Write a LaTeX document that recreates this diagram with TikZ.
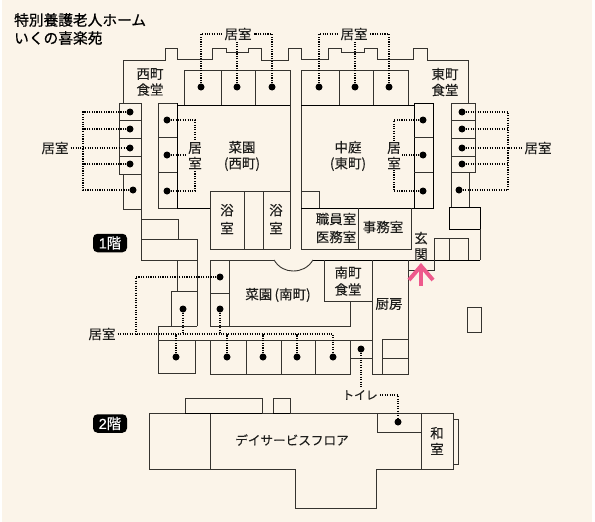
\documentclass[tikz,border=0pt]{standalone}
\usepackage{fontspec}
\setmainfont[FakeBold=0.12]{Noto Sans CJK JP}
\newfontfamily\titlefont[FakeBold=0.6]{Noto Sans CJK JP}
\newfontfamily\badgefont[FakeBold=0.5]{Liberation Sans}
\newfontfamily\badgecjk[FakeBold=0.5]{Noto Sans CJK JP}
\definecolor{paper}{HTML}{FBF4E9}
\definecolor{ink}{HTML}{1E1E1C}
\definecolor{wallgray}{HTML}{35332F}
\definecolor{arrowpink}{HTML}{EE5A8C}
\tikzset{
  wall/.style={draw=wallgray,line width=0.9pt,line join=miter,fill=none},
  heavy/.style={draw=black,line width=0.9pt},
  roomdot/.style={circle,fill=black,inner sep=0pt,minimum size=7pt},
  lead/.style={draw=black,line width=1.1pt,dash pattern=on 1.1pt off 1.3pt},
  roomtext/.style={font=\fontsize{13.5}{14}\selectfont,text=ink,inner sep=0pt,align=center},
  leadtext/.style={roomtext,inner sep=2pt},
  titletext/.style={font=\titlefont\fontsize{14.7}{16}\selectfont,text=black,inner sep=0pt,anchor=west},
  badge/.style={fill=black,rounded corners=4.5pt,minimum width=34pt,minimum height=18.5pt,inner sep=0pt,text=white}
}
\begin{document}
\begin{tikzpicture}[x=1pt,y=-1pt]
\useasboundingbox (0,0) rectangle (595,522);
\fill[white] (0,0) rectangle (595,522);
\fill[paper] (2,0) rectangle (592,522);

% 1F outline, top
\draw[wall] (123,103) -- (123,60) -- (165,60) -- (165,48) -- (177,48) -- (177,59) -- (212,59) -- (212,48) -- (226,48) -- (226,52) -- (248,52) -- (248,48) -- (261,48) -- (261,60) -- (288,60) -- (288,48) -- (301,48) -- (301,59) -- (328,59) -- (328,48) -- (341,48) -- (341,52) -- (364,52) -- (364,48) -- (377,48) -- (377,59) -- (413,59) -- (413,48) -- (427,48) -- (427,60) -- (468,60) -- (468,103);

% west outer wing
\draw[wall] (119,103) rectangle (141,174);
\draw[wall] (119,120) -- (141,120) (119,138) -- (141,138) (119,156) -- (141,156);
\draw[wall] (123,174) -- (123,209) -- (141,209);
\draw[wall] (141,174) -- (141,260);
\draw[wall] (141,219) -- (178,219) -- (178,239);
\draw[wall] (141,239) -- (197,239) -- (197,326);
\draw[wall] (141,260) -- (197,260);
\draw[wall] (177,260) -- (177,291);
\draw[wall] (171,326) -- (171,291) -- (197,291);

% west inner block
\draw[wall] (184,105) -- (184,70) -- (290,70) -- (290,249);
\draw[wall] (221,70) -- (221,105) (255,70) -- (255,105);
\draw[heavy] (177,105) -- (290,105);
\draw[wall] (158,103) rectangle (177,208);
\draw[wall] (158,137) -- (177,137) (158,172) -- (177,172);
\draw[heavy] (177,103) -- (177,208) -- (210,208);
\draw[wall] (210,249) -- (210,191) -- (290,191);
\draw[wall] (210,249) -- (290,249);
\draw[wall] (244,191) -- (244,249) (263,191) -- (263,249);

% east inner block
\draw[wall] (301,249) -- (301,70) -- (408,70) -- (408,105);
\draw[wall] (339,70) -- (339,105) (373,70) -- (373,105);
\draw[heavy] (301,105) -- (414,105);
\draw[heavy] (414,103) rectangle (433,208);
\draw[wall] (414,137) -- (433,137) (414,172) -- (433,172);
\draw[heavy] (301,208) -- (414,208);
\draw[wall] (301,191) -- (319,191) -- (319,208);
\draw[wall] (301,249) -- (411,249) -- (411,208);
\draw[wall] (358,208) -- (358,249);

% east outer wing
\draw[wall] (451,103) rectangle (475,172);
\draw[wall] (451,120) -- (475,120) (451,138) -- (475,138) (451,156) -- (475,156);
\draw[wall] (451,172) -- (451,207) (469,172) -- (469,207);
\draw[heavy] (449,207) rectangle (480,229);
\draw[wall] (480,229) -- (480,260);

% entrance and south line
\draw[heavy] (313,260) -- (480,260);
\draw[wall] (408,270) -- (434,270) -- (434,238) -- (468,238) -- (468,260);
\draw[wall] (449,238) -- (449,260);

% south garden
\draw[wall] (229,326) -- (229,260);
\draw[wall] (210,326) -- (210,260) -- (274,260);
\draw[wall] (274,260) .. controls (279,268) and (286,271) .. (293,271) .. controls (301,271) and (308,268) .. (313,260);
\draw[wall] (210,293) -- (229,293);
\draw[wall] (324,260) -- (324,301) -- (372,301);
\draw[wall] (350,301) -- (350,326) -- (210,326);

% kitchen
\draw[wall] (372,260) -- (372,374) -- (408,374) -- (408,260);
\draw[wall] (382,374) -- (382,339) -- (408,339);
\draw[wall] (382,358) -- (408,358);
\draw[wall] (350,358) -- (372,358);

% south rooms
\draw[wall] (158,340) -- (372,340);
\draw[wall] (197,326) -- (158,326) -- (158,373) -- (195,373) -- (195,340);
\draw[wall] (210,340) -- (210,374) -- (350,374) -- (350,340);
\draw[wall] (246,340) -- (246,374) (281,340) -- (281,374) (315,340) -- (315,374);

% freestanding
\draw[wall] (467,307) rectangle (481,332);

% 2F
\draw[wall] (149,413) -- (453,413) -- (453,469) -- (376,469) -- (376,508) -- (295,508) -- (295,469) -- (149,469) -- cycle;
\draw[wall] (210,413) -- (210,469) (421,413) -- (421,469);
\draw[wall] (377,413) -- (377,432) -- (421,432);
\draw[wall] (185,413) -- (185,398) -- (262,398) -- (262,413);
\draw[heavy] (185,413) -- (262,413);
\draw[wall] (273,413) -- (273,398) -- (290,398) -- (290,413);
\draw[heavy] (273,413) -- (290,413);
\draw[wall,fill=paper] (453,419) rectangle (458,464);

% dots
\foreach \n/\x/\y in {wa/130/112,wb/130/129,wc/130/148,wd/130/164,we/133/190,
  ia/167/120,ib/167/155,ic/167/191,
  ta/201/87,tb/237/87,tc/272/87,ua/319/87,ub/355/87,uc/389/87,
  ja/423/120,jb/423/155,jc/423/191,
  ea/462/112,eb/462/129,ec/462/148,ed/462/164,ee/459/190,
  sa/220/277,sb/220/309,sc/183/309,sd/176/357,se/227/357,sf/263/357,sg/297/357,sh/333/357,
  wc1/361/349,wc2/398/422}
  \node[roomdot] (\n) at (\x,\y) {};

% leader labels
\node[leadtext] (lw) at (55,148) {居室};
\node[leadtext] (le) at (538,148) {居室};
\node[leadtext] (lt) at (238,34) {居室};
\node[leadtext] (lu) at (354,34) {居室};
\node[leadtext] (ls) at (102,334) {居室};
\node[roomtext,inner sep=1pt] (li1) at (195,148) {居};
\node[roomtext,inner sep=1pt] (li2) at (195,163) {室};
\node[roomtext,inner sep=1pt] (lj1) at (394,148) {居};
\node[roomtext,inner sep=1pt] (lj2) at (394,163) {室};
\node[font=\fontsize{11.8}{14}\selectfont,text=ink,inner sep=2pt] (lwc) at (360,395) {トイレ};

% leaders
\coordinate (wbus) at (83,148);
\coordinate (ebus) at (508,148);
\draw[lead] (wa) -| (wbus) (wb) -| (wbus) (wd) -| (wbus) (we) -| (wbus);
\draw[lead] (lw.east) -- (wc);
\draw[lead] (ea) -| (ebus) (eb) -| (ebus) (ed) -| (ebus) (ee) -| (ebus);
\draw[lead] (ec) -- (le.west);
\draw[lead] (ta) |- (lt.west);
\draw[lead] (tb) -- (tb |- lt.south);
\draw[lead] (tc) |- (lt.east);
\draw[lead] (ua) |- (lu.west);
\draw[lead] (ub) -- (ub |- lu.south);
\draw[lead] (uc) |- (lu.east);
\draw[lead] (ia) -| (li1.north);
\draw[lead] (ib) -- (li1.south west |- ib);
\draw[lead] (ic) -| (li2.south);
\draw[lead] (ja) -| (lj1.north);
\draw[lead] (jb) -- (lj1.south east |- jb);
\draw[lead] (jc) -| (lj2.south);
\coordinate (sbus) at (333,334);
\coordinate (sleft) at (136,334);
\draw[lead] (ls.east) -- (sbus) -- (sh);
\draw[lead] (sa) -| (sleft);
\draw[lead] (sb) -- (sb |- sbus);
\draw[lead] (sc) -- (sc |- sbus);
\draw[lead] (sd) -- (sd |- sbus);
\draw[lead] (se) -- (se |- sbus);
\draw[lead] (sf) -- (sf |- sbus);
\draw[lead] (sg) -- (sg |- sbus);
\draw[lead] (wc1) -- (wc1 |- lwc.north);
\draw[lead] (lwc.east) -| (wc2);

% room names
\node[roomtext] (r01) at (150,82) {西町\\[2pt]食堂};
\node[roomtext] (r02) at (445,82) {東町\\[2pt]食堂};
\node[roomtext] (r03) at (242,156) {菜園\\[2pt](西町)};
\node[roomtext] (r04) at (348,156) {中庭\\[2pt](東町)};
\node[roomtext] (r05) at (227,219) {浴\\[4pt]室};
\node[roomtext] (r06) at (276,219) {浴\\[4pt]室};
\node[roomtext] (r07) at (336,228) {職員室\\[4pt]医務室};
\node[roomtext] (r08) at (383,227) {事務室};
\node[roomtext] (r09) at (421,246) {玄\\[2pt]関};
\node[roomtext] (r10) at (348,281) {南町\\[3pt]食堂};
\node[roomtext] (r11) at (389,304) {厨房};
\node[roomtext] (r12) at (278,295) {菜園\,(南町)};
\node[roomtext,font=\fontsize{12.6}{14}\selectfont] (r13) at (292,440) {デイサービスフロア};
\node[roomtext] (r14) at (437,441) {和\\[2pt]室};

% titles and badges
\node[titletext] (t1) at (14,20) {特別養護老人ホーム};
\node[titletext] (t2) at (14,38) {いくの喜楽苑};
\node[badge] (b1) at (110,243) {\badgefont\fontsize{14.5}{15}\selectfont 1\badgecjk 階};
\node[badge] (b2) at (110,423.5) {\badgefont\fontsize{14.5}{15}\selectfont 2\badgecjk 階};

% entrance arrow
\coordinate (atip) at (421,266);
\coordinate (abase) at (421,286);
\coordinate (awl) at (409,280);
\coordinate (awr) at (433,280);
\draw[arrowpink,line width=4pt] (abase) -- (421,269);
\draw[arrowpink,line width=4pt,line join=miter] (awl) -- (atip) -- (awr);
\end{tikzpicture}
\end{document}
